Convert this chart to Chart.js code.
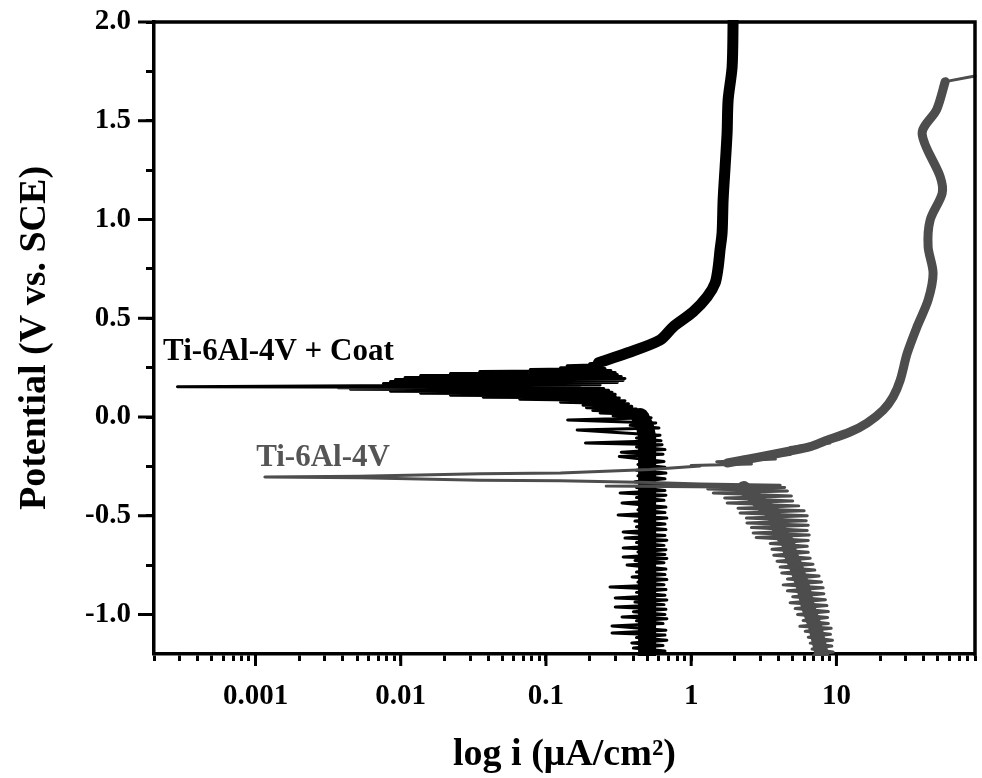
<!DOCTYPE html>
<html lang="en">
<head>
  <meta charset="UTF-8">
  <title>Potentiodynamic polarization - Ti-6Al-4V</title>
  <script src="https://cdn.jsdelivr.net/npm/chart.js"></script>
  <style>
    body { margin: 0; background: #fff; }
    #wrap { width: 982px; height: 778px; }
  </style>
</head>
<body>

<div id="wrap"><canvas id="tafel" width="982" height="778"></canvas></div>

<script>
// ticks
const xMajorTicks = [0.001, 0.01, 0.1, 1, 10];
const xMinorSteps = [2, 3, 4, 5, 6, 7, 8, 9];
const yMajorTicks = [-1.0, -0.5, 0.0, 0.5, 1.0, 1.5, 2.0];
const yMinorTicks = [-0.75, -0.25, 0.25, 0.75, 1.25, 1.75];

// [current i (uA/cm2), potential E (V vs. SCE)]
// Ti-6Al-4V + Coat : whole scan, thin trace with the noise
const coatTrace = [
  [0.43,-1.20],[0.66,-1.185],[0.40,-1.17],[0.64,-1.157],[0.39,-1.144],[0.68,-1.13],[0.42,-1.117],[0.66,-1.104],
  [0.285,-1.094],[0.67,-1.08],[0.285,-1.058],[0.64,-1.046],[0.42,-1.032],[0.68,-1.021],[0.334,-1.013],[0.66,-1.0],
  [0.40,-0.986],[0.67,-0.974],[0.30,-0.962],[0.65,-0.95],[0.41,-0.937],[0.68,-0.926],[0.30,-0.916],[0.66,-0.902],
  [0.42,-0.888],[0.67,-0.874],[0.276,-0.861],[0.65,-0.849],[0.43,-0.836],[0.68,-0.823],[0.392,-0.81],[0.66,-0.798],
  [0.42,-0.785],[0.67,-0.77],[0.362,-0.749],[0.65,-0.738],[0.41,-0.726],[0.68,-0.716],[0.34,-0.709],[0.66,-0.696],
  [0.43,-0.683],[0.67,-0.672],[0.34,-0.663],[0.65,-0.65],[0.42,-0.636],[0.68,-0.624],[0.35,-0.613],[0.66,-0.60],
  [0.34,-0.582],[0.67,-0.57],[0.42,-0.556],[0.66,-0.542],[0.41,-0.527],[0.68,-0.512],[0.314,-0.496],[0.66,-0.484],
  [0.43,-0.47],[0.67,-0.456],[0.334,-0.435],[0.65,-0.422],[0.42,-0.408],[0.67,-0.396],[0.324,-0.385],[0.66,-0.372],
  [0.42,-0.357],[0.68,-0.343],[0.41,-0.328],[0.66,-0.313],[0.43,-0.298],[0.67,-0.284],[0.42,-0.27],[0.66,-0.255],
  [0.43,-0.24],[0.65,-0.225],[0.32,-0.20],[0.64,-0.188],[0.33,-0.178],[0.66,-0.165],[0.42,-0.152],[0.63,-0.14],
  [0.187,-0.132],[0.62,-0.12],[0.42,-0.106],[0.61,-0.092],[0.164,-0.066],[0.60,-0.056],[0.38,-0.042],[0.57,-0.03],
  [0.141,-0.015],[0.53,-0.004],
  [0.29,0.006],[0.50,0.012],[0.236,0.02],[0.445,0.026],[0.21,0.033],[0.42,0.04],[0.19,0.047],[0.39,0.054],
  [0.18,0.06],[0.37,0.067],[0.126,0.075],[0.35,0.082],[0.066,0.09],[0.32,0.096],[0.037,0.10],[0.30,0.105],
  [0.022,0.11],[0.30,0.115],[0.0137,0.12],[0.285,0.125],[0.0085,0.13],[0.27,0.135],[0.0045,0.14],[0.25,0.144],
  [0.0037,0.148],[0.17,0.15],[0.00029,0.153],
  [0.0053,0.158],[0.236,0.162],[0.0076,0.17],[0.31,0.175],[0.0085,0.18],[0.34,0.185],[0.0092,0.19],[0.35,0.195],
  [0.0107,0.20],[0.33,0.205],[0.0137,0.21],[0.31,0.215],[0.022,0.22],[0.30,0.225],[0.035,0.23],[0.28,0.235],
  [0.078,0.24],[0.255,0.245],[0.126,0.25],[0.236,0.255],[0.14,0.26],[0.236,0.265],[0.20,0.27],[0.23,0.275],
  [0.28,0.30],[0.362,0.324],[0.611,0.39],[0.751,0.456],[1.03,0.532],[1.287,0.608],[1.461,0.678],[1.534,0.759],
  [1.58,0.846],[1.632,0.932],[1.659,1.099],[1.712,1.266],[1.767,1.438],[1.796,1.605],[1.913,1.772],[1.944,2.01]
];
// Ti-6Al-4V + Coat : dense cathodic band
const coatCathodic = [[0.497,-1.21],[0.497,-0.60],[0.497,-0.10],[0.481,-0.05],[0.445,0.0]];
// Ti-6Al-4V + Coat : passive (anodic) band
const coatAnodic = [
  [0.23,0.275],[0.362,0.324],[0.611,0.39],[0.751,0.456],[1.03,0.532],[1.287,0.608],[1.461,0.678],[1.534,0.759],
  [1.58,0.846],[1.632,0.932],[1.659,1.099],[1.712,1.266],[1.767,1.438],[1.796,1.605],[1.913,1.772],[1.944,2.01]
];

// Ti-6Al-4V : whole scan, thin trace with the noise
const bareTrace = [
  [7.0,-1.205],[9.5,-1.19],[6.8,-1.175],[9.3,-1.16],[6.6,-1.145],[9.4,-1.13],[6.4,-1.115],[9.1,-1.10],
  [6.1,-1.085],[9.2,-1.07],[5.6,-1.06],[8.8,-1.045],[5.9,-1.03],[8.7,-1.015],[5.4,-1.0],[8.8,-0.985],
  [5.2,-0.97],[8.6,-0.955],[4.8,-0.94],[8.4,-0.925],[5.0,-0.91],[8.2,-0.895],[4.6,-0.88],[8.1,-0.865],
  [4.3,-0.85],[7.9,-0.835],[4.6,-0.82],[7.6,-0.805],[4.2,-0.79],[7.1,-0.775],[4.1,-0.76],[6.9,-0.745],
  [3.9,-0.73],[6.6,-0.715],[3.7,-0.70],[6.4,-0.685],[3.6,-0.67],[6.3,-0.655],[3.5,-0.64],[6.4,-0.625],
  [2.8,-0.61],[6.5,-0.597],[2.67,-0.587],[6.3,-0.575],[2.6,-0.56],[6.4,-0.548],[2.42,-0.537],[6.2,-0.525],
  [2.4,-0.512],[6.3,-0.50],[2.17,-0.486],[6.0,-0.475],[2.1,-0.462],[5.5,-0.45],[1.77,-0.435],[5.0,-0.425],
  [1.7,-0.41],[4.9,-0.40],[1.42,-0.385],[4.6,-0.375],[1.3,-0.365],[4.4,-0.357],
  [0.26,-0.350],[4.1,-0.346],[1.15,-0.339],[0.52,-0.332],[0.126,-0.323],[0.035,-0.320],[0.0053,-0.307],[0.00116,-0.304],
  [0.0052,-0.300],[0.035,-0.287],[0.126,-0.284],[0.521,-0.266],[1.152,-0.248],[1.0,-0.245],[2.6,-0.238],[1.5,-0.226],
  [3.8,-0.213],[2.2,-0.205],[4.8,-0.19],[3.3,-0.182],[6.0,-0.165],[4.8,-0.155],[9.0,-0.132],[8.1,-0.122],
  [12.4,-0.076],[16.3,-0.030],[21.0,0.035],[24.6,0.103],[27.5,0.187],[30.7,0.322],[35.9,0.457],[42.8,0.592],
  [46.3,0.728],[42.8,0.862],[44.2,0.997],[53.5,1.133],[51.8,1.217],[38.9,1.436],[49.1,1.558],[56.1,1.698],
  [90,1.727]
];
// Ti-6Al-4V : dense cathodic band
const bareCathodic = [
  [7.97,-1.21],[7.14,-1.063],[6.38,-0.962],[5.9,-0.861],[5.28,-0.759],[4.8,-0.689],[4.65,-0.638],
  [4.1,-0.587],[3.9,-0.537],[3.66,-0.486],[2.98,-0.435],[2.55,-0.385],[2.3,-0.36]
];
// Ti-6Al-4V : anodic band
const bareAnodic = [
  [1.77,-0.233],[2.84,-0.205],[4.80,-0.172],[6.6,-0.150],[8.1,-0.125],[12.4,-0.076],[16.3,-0.030],[21.0,0.035],
  [24.6,0.103],[27.5,0.187],[30.7,0.322],[35.9,0.457],[42.8,0.592],[46.3,0.728],[42.8,0.862],[44.2,0.997],
  [53.5,1.133],[51.8,1.217],[38.9,1.436],[49.1,1.558],[56.1,1.698]
];

const serif = "'Liberation Serif', 'Times New Roman', serif";
const BLACK = "#000000";
const GREY = "#4d4d4d";

const xTicks = [];
xMinorSteps.forEach(s => xTicks.push(s * 0.0001));
xMajorTicks.forEach(m => {
  xTicks.push(m);
  xMinorSteps.forEach(s => { if (s * m <= 90) xTicks.push(s * m); });
});
const yTicks = yMajorTicks.concat(yMinorTicks).sort((a, b) => a - b);
const isMajorX = v => xMajorTicks.some(m => Math.abs(m - v) / m < 1e-6);
const isMajorY = v => yMajorTicks.some(m => Math.abs(m - v) < 1e-6);

function curve(points, color, width, order, tension) {
  return {
    data: points.map(([i, e]) => ({ x: i, y: e })),
    showLine: true,
    borderColor: color,
    backgroundColor: color,
    borderWidth: width,
    borderJoinStyle: "round",
    borderCapStyle: "round",
    pointRadius: 0,
    pointHoverRadius: 0,
    tension: tension || 0,
    clip: 2,
    order: order
  };
}

// box top/right and the longer major ticks
const frame = {
  id: "frame",
  afterDraw(chart) {
    const { ctx, chartArea: a, scales: { x, y } } = chart;
    ctx.save();
    ctx.strokeStyle = BLACK;
    ctx.lineWidth = 3.5;
    ctx.beginPath();
    ctx.moveTo(a.left - 1.75, a.top);
    ctx.lineTo(a.right, a.top);
    ctx.lineTo(a.right, a.bottom + 1.75);
    ctx.stroke();
    ctx.lineWidth = 3;
    xMajorTicks.forEach(v => {
      const px = x.getPixelForValue(v);
      ctx.beginPath(); ctx.moveTo(px, a.bottom); ctx.lineTo(px, a.bottom + 12); ctx.stroke();
    });
    yMajorTicks.forEach(v => {
      const py = y.getPixelForValue(v);
      ctx.beginPath(); ctx.moveTo(a.left, py); ctx.lineTo(a.left - 16, py); ctx.stroke();
    });
    ctx.restore();
  }
};

// curve names written inside the plot
const curveNames = {
  id: "curveNames",
  afterDatasetsDraw(chart) {
    const { ctx, scales: { x, y } } = chart;
    ctx.save();
    ctx.font = "bold 31px " + serif;
    ctx.textBaseline = "alphabetic";
    ctx.fillStyle = BLACK;
    ctx.fillText("Ti-6Al-4V + Coat", x.getPixelForValue(0.000231), y.getPixelForValue(0.289));
    ctx.fillStyle = "#555555";
    ctx.fillText("Ti-6Al-4V", x.getPixelForValue(0.00101), y.getPixelForValue(-0.247));
    ctx.restore();
  }
};

new Chart(document.getElementById("tafel"), {
  type: "scatter",
  data: {
    datasets: [
      curve(bareTrace, GREY, 3, 0),
      curve(bareCathodic, GREY, 14, 0),
      curve(bareAnodic, GREY, 9, 0, 0.3),
      curve(coatTrace, BLACK, 3, 1),
      curve(coatCathodic, BLACK, 18, 1),
      curve(coatAnodic, BLACK, 11, 1, 0.3)
    ]
  },
  options: {
    responsive: false,
    animation: false,
    devicePixelRatio: 1,
    events: [],
    layout: { padding: { top: 22, right: 7, left: 0, bottom: 0 } },
    plugins: {
      legend: { display: false },
      tooltip: { enabled: false }
    },
    scales: {
      x: {
        type: "logarithmic",
        min: 0.0002,
        max: 90,
        afterBuildTicks: s => { s.ticks = xTicks.map(v => ({ value: v })); },
        afterFit: s => { s.height = 124; s.paddingLeft = 0; s.paddingRight = 0; },
        ticks: {
          autoSkip: false,
          maxRotation: 0,
          minRotation: 0,
          padding: 18,
          color: BLACK,
          font: { family: serif, size: 29, weight: "bold" },
          callback: v => isMajorX(v) ? String(v) : ""
        },
        grid: { display: true, drawOnChartArea: false, drawTicks: true, tickLength: 7, tickWidth: 3, tickColor: BLACK },
        border: { display: true, color: BLACK, width: 3.5 },
        title: {
          display: true,
          text: "log i (μA/cm²)",
          color: BLACK,
          font: { family: serif, size: 38, weight: "bold" },
          padding: { top: 0, bottom: 0 }
        }
      },
      y: {
        type: "linear",
        min: -1.2,
        max: 2.0,
        afterBuildTicks: s => { s.ticks = yTicks.map(v => ({ value: v })); },
        afterFit: s => { s.width = 154; s.paddingTop = 0; s.paddingBottom = 0; },
        ticks: {
          autoSkip: false,
          padding: 15,
          color: BLACK,
          font: { family: serif, size: 29, weight: "bold" },
          callback: v => isMajorY(v) ? Number(v).toFixed(1) : ""
        },
        grid: { display: true, drawOnChartArea: false, drawTicks: true, tickLength: 8, tickWidth: 3, tickColor: BLACK },
        border: { display: true, color: BLACK, width: 3.5 },
        title: {
          display: true,
          text: "Potential (V vs. SCE)",
          color: BLACK,
          font: { family: serif, size: 38, weight: "bold" },
          padding: { top: 12, bottom: 0 }
        }
      }
    }
  },
  plugins: [curveNames, frame]
});
</script>

</body>
</html>
